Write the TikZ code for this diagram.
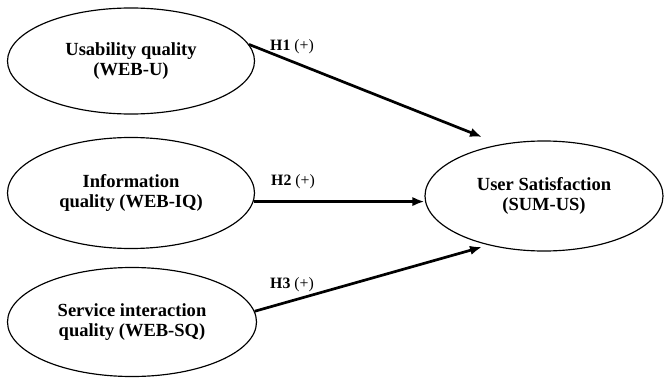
\documentclass[tikz,border=0pt]{standalone}
\usepackage{fontspec}
\setmainfont{Liberation Serif}
\usetikzlibrary{arrows.meta,shapes.geometric}

\begin{document}
\begin{tikzpicture}[x=0.03cm,y=0.03cm,
    construct/.style={draw,ellipse,line width=1pt,inner sep=0pt,align=center,
      font=\fontsize{15.8}{17.5}\selectfont\bfseries},
    hyparrow/.style={-{Latex[length=3.6mm,width=2.8mm]},line width=2.3pt},
    hyplabel/.style={anchor=west,inner sep=0pt,font=\fontsize{13.5}{15}\selectfont}]
    \useasboundingbox (0,0) rectangle (665,381);
    % the three web quality constructs
    \node[construct,minimum width=7.41cm,minimum height=3.18cm] (webu)
      at (131,320) {Usability quality\\(WEB-U)};
    \node[construct,minimum width=7.41cm,minimum height=3.33cm] (webiq)
      at (131,188) {Information\\quality (WEB-IQ)};
    \node[construct,minimum width=7.47cm,minimum height=3.27cm] (websq)
      at (132,59) {Service interaction\\quality (WEB-SQ)};
    % outcome
    \node[construct,minimum width=7.14cm,minimum height=3.3cm] (sumus)
      at (544,185) {User Satisfaction\\(SUM-US)};
    \coordinate (h1tip) at (482,244);
    \coordinate (h3tip) at (482,134);
    % hypotheses
    \draw[hyparrow] (webu.8) -- (h1tip);
    \draw[hyparrow] (webiq.-4) -- (webiq.-4 -| sumus.west);
    \draw[hyparrow] (websq.5) -- (h3tip);
    \node[hyplabel] (h1) at (270,334) {\textbf{H1} (+)};
    \node[hyplabel] (h2) at (271,199) {\textbf{H2} (+)};
    \node[hyplabel] (h3) at (270,96) {\textbf{H3} (+)};
  \end{tikzpicture}
\end{document}
